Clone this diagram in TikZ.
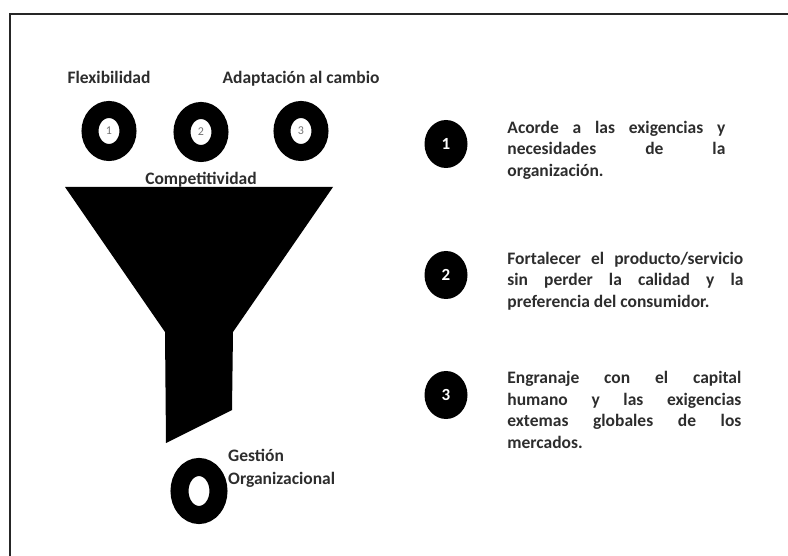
\documentclass[tikz,border=0pt]{standalone}
\usepackage{fontspec}
\setmainfont{Carlito}
\usepackage{xcolor}
\usetikzlibrary{shapes.geometric, positioning}
\definecolor{gristexto}{RGB}{45,45,45}
\tikzstyle{anillo} = [ellipse, 
minimum width=38pt, 
minimum height=43pt,
inner sep=0pt,
line width=17pt,
draw=black, 
fill=white,
text=black!55,
font=\fontsize{12}{12}\selectfont]
\tikzstyle{numero} = [ellipse, 
minimum width=43pt, 
minimum height=48pt, 
inner sep=0pt,
fill=black, 
text=white,
font=\bfseries\fontsize{17}{17}\selectfont]
\tikzstyle{etiqueta} = [inner sep=0pt, 
text=gristexto, 
font=\bfseries\fontsize{17.5}{20}\selectfont]
\tikzstyle{parrafo} = [inner sep=0pt, 
text width=236pt, 
align=justify, 
text=gristexto, 
font=\bfseries\fontsize{17.5}{21.5}\selectfont]

\begin{document}
\begin{tikzpicture}[x=1pt, y=-1pt, node distance=10pt]
        \useasboundingbox (0,0) rectangle (788,556);

        % --- Marco ---
        \draw [line width=2pt, black!85] (10,556) -- (10,14) -- (788,14);

        % --- Embudo ---
        \fill (65,187) -- (333,187) -- (233,332) -- (232,410) -- (166,443) -- (165,332) -- cycle;

        % --- Anillos ---
        \node (anillo1) [anillo] at (109,131) {1};
        \node (anillo2) [anillo] at (201,132) {2};
        \node (anillo3) [anillo] at (301,131) {3};
        \node (anillo4) [anillo, minimum width=39pt, minimum height=48pt, line width=18pt] at (199,491) {};

        \node (flex) [etiqueta, above=17pt of anillo1] {Flexibilidad};
        \node (adapt) [etiqueta, above=15pt of anillo3] {Adaptación al cambio};
        \node (compet) [etiqueta, below=10pt of anillo2] {Competitividad};
        \node (gestion) [etiqueta, align=left, anchor=north west, 
            font=\bfseries\fontsize{17.5}{23}\selectfont] at (228,449) {Gestión\\Organizacional};

        % --- Numeros y descripciones ---
        \node (num1) [numero] at (446,144) {1};
        \node (num2) [numero] at (446,275) {2};
        \node (num3) [numero] at (446,395) {3};

        \node (desc1) [parrafo, text width=218pt, right=39.5pt of num1, yshift=-6pt] 
            {Acorde a las exigencias y\linebreak necesidades de la\linebreak organización.};
        \node (desc2) [parrafo, right=39.5pt of num2, yshift=-6pt] 
            {Fortalecer el producto/servicio\linebreak sin perder la calidad y la\linebreak preferencia del consumidor.};
        \node (desc3) [parrafo, text width=234pt, right=39.5pt of num3, yshift=-15pt] 
            {Engranaje con el capital\linebreak humano y las exigencias\linebreak extemas globales de los\linebreak mercados.};

    \end{tikzpicture}
\end{document}
